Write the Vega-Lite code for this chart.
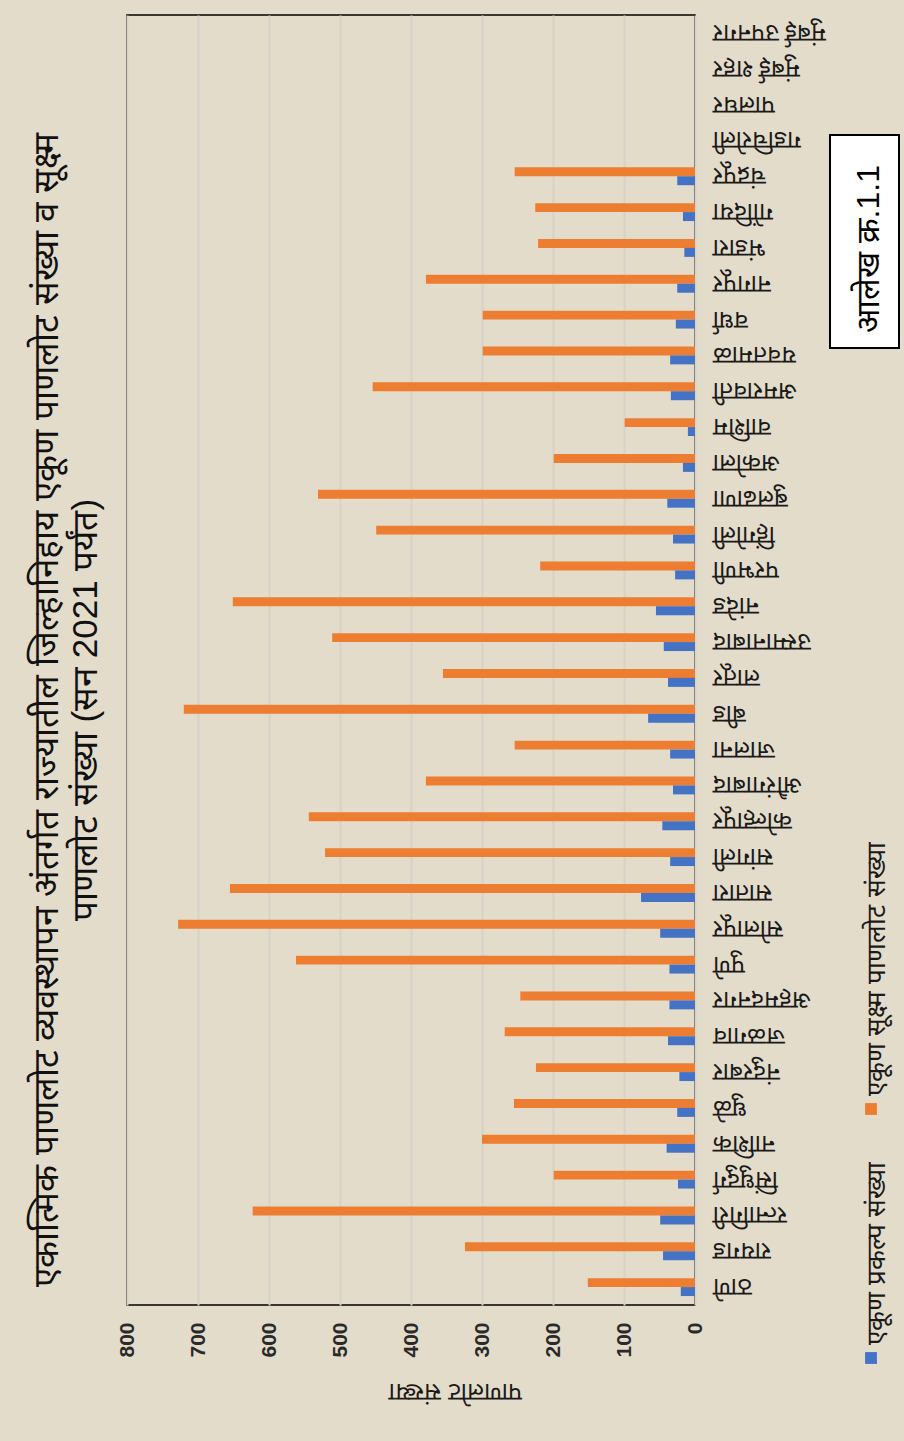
{
  "$schema": "https://vega.github.io/schema/vega-lite/v6.json",
  "width": 568,
  "height": 1290,
  "autosize": "none",
  "padding": {"left": 127, "top": 15, "right": 209, "bottom": 136},
  "background": "#e4dccb",
  "title": {
    "text": ["एकात्मिक पाणलोट व्यवस्थापन अंतर्गत राज्यातील जिल्हानिहाय एकूण पाणलोट संख्या व सूक्ष्म", "पाणलोट संख्या (सन 2021 पर्यंत)"],
    "orient": "left",
    "anchor": "middle",
    "font": "Liberation Sans",
    "fontSize": 35,
    "fontWeight": "normal",
    "color": "#111111",
    "lineHeight": 39,
    "offset": 12,
    "dx": -50
  },
  "config": {
    "view": {"stroke": "#000000", "strokeWidth": 1.5},
    "font": "Liberation Sans"
  },
  "data": {
    "values": [
      {"district": "ठाणे", "series": "एकूण सूक्ष्म पाणलोट संख्या", "value": 151},
      {"district": "ठाणे", "series": "एकूण प्रकल्प संख्या", "value": 20},
      {"district": "रायगड", "series": "एकूण सूक्ष्म पाणलोट संख्या", "value": 324},
      {"district": "रायगड", "series": "एकूण प्रकल्प संख्या", "value": 45},
      {"district": "रत्नागिरी", "series": "एकूण सूक्ष्म पाणलोट संख्या", "value": 623},
      {"district": "रत्नागिरी", "series": "एकूण प्रकल्प संख्या", "value": 49},
      {"district": "सिंधुदुर्ग", "series": "एकूण सूक्ष्म पाणलोट संख्या", "value": 199},
      {"district": "सिंधुदुर्ग", "series": "एकूण प्रकल्प संख्या", "value": 24},
      {"district": "नाशिक", "series": "एकूण सूक्ष्म पाणलोट संख्या", "value": 300},
      {"district": "नाशिक", "series": "एकूण प्रकल्प संख्या", "value": 40},
      {"district": "धुळे", "series": "एकूण सूक्ष्म पाणलोट संख्या", "value": 255},
      {"district": "धुळे", "series": "एकूण प्रकल्प संख्या", "value": 25},
      {"district": "नंदुरबार", "series": "एकूण सूक्ष्म पाणलोट संख्या", "value": 224},
      {"district": "नंदुरबार", "series": "एकूण प्रकल्प संख्या", "value": 22},
      {"district": "जळगाव", "series": "एकूण सूक्ष्म पाणलोट संख्या", "value": 268},
      {"district": "जळगाव", "series": "एकूण प्रकल्प संख्या", "value": 38},
      {"district": "अहमदनगर", "series": "एकूण सूक्ष्म पाणलोट संख्या", "value": 246},
      {"district": "अहमदनगर", "series": "एकूण प्रकल्प संख्या", "value": 36},
      {"district": "पुणे", "series": "एकूण सूक्ष्म पाणलोट संख्या", "value": 562},
      {"district": "पुणे", "series": "एकूण प्रकल्प संख्या", "value": 36},
      {"district": "सोलापूर", "series": "एकूण सूक्ष्म पाणलोट संख्या", "value": 728},
      {"district": "सोलापूर", "series": "एकूण प्रकल्प संख्या", "value": 49},
      {"district": "सातारा", "series": "एकूण सूक्ष्म पाणलोट संख्या", "value": 655},
      {"district": "सातारा", "series": "एकूण प्रकल्प संख्या", "value": 76},
      {"district": "सांगली", "series": "एकूण सूक्ष्म पाणलोट संख्या", "value": 521},
      {"district": "सांगली", "series": "एकूण प्रकल्प संख्या", "value": 35},
      {"district": "कोल्हापूर", "series": "एकूण सूक्ष्म पाणलोट संख्या", "value": 544},
      {"district": "कोल्हापूर", "series": "एकूण प्रकल्प संख्या", "value": 46},
      {"district": "औरंगाबाद", "series": "एकूण सूक्ष्म पाणलोट संख्या", "value": 379},
      {"district": "औरंगाबाद", "series": "एकूण प्रकल्प संख्या", "value": 31},
      {"district": "जालना", "series": "एकूण सूक्ष्म पाणलोट संख्या", "value": 254},
      {"district": "जालना", "series": "एकूण प्रकल्प संख्या", "value": 35},
      {"district": "बीड", "series": "एकूण सूक्ष्म पाणलोट संख्या", "value": 720},
      {"district": "बीड", "series": "एकूण प्रकल्प संख्या", "value": 66},
      {"district": "लातूर", "series": "एकूण सूक्ष्म पाणलोट संख्या", "value": 355},
      {"district": "लातूर", "series": "एकूण प्रकल्प संख्या", "value": 38},
      {"district": "उस्मानाबाद", "series": "एकूण सूक्ष्म पाणलोट संख्या", "value": 511},
      {"district": "उस्मानाबाद", "series": "एकूण प्रकल्प संख्या", "value": 44},
      {"district": "नांदेड", "series": "एकूण सूक्ष्म पाणलोट संख्या", "value": 651},
      {"district": "नांदेड", "series": "एकूण प्रकल्प संख्या", "value": 55},
      {"district": "परभणी", "series": "एकूण सूक्ष्म पाणलोट संख्या", "value": 218},
      {"district": "परभणी", "series": "एकूण प्रकल्प संख्या", "value": 28},
      {"district": "हिंगोली", "series": "एकूण सूक्ष्म पाणलोट संख्या", "value": 449},
      {"district": "हिंगोली", "series": "एकूण प्रकल्प संख्या", "value": 31},
      {"district": "बुलढाणा", "series": "एकूण सूक्ष्म पाणलोट संख्या", "value": 531},
      {"district": "बुलढाणा", "series": "एकूण प्रकल्प संख्या", "value": 39},
      {"district": "अकोला", "series": "एकूण सूक्ष्म पाणलोट संख्या", "value": 199},
      {"district": "अकोला", "series": "एकूण प्रकल्प संख्या", "value": 17},
      {"district": "वाशिम", "series": "एकूण सूक्ष्म पाणलोट संख्या", "value": 99},
      {"district": "वाशिम", "series": "एकूण प्रकल्प संख्या", "value": 10},
      {"district": "अमरावती", "series": "एकूण सूक्ष्म पाणलोट संख्या", "value": 454},
      {"district": "अमरावती", "series": "एकूण प्रकल्प संख्या", "value": 34},
      {"district": "यवतमाळ", "series": "एकूण सूक्ष्म पाणलोट संख्या", "value": 299},
      {"district": "यवतमाळ", "series": "एकूण प्रकल्प संख्या", "value": 35},
      {"district": "वर्धा", "series": "एकूण सूक्ष्म पाणलोट संख्या", "value": 299},
      {"district": "वर्धा", "series": "एकूण प्रकल्प संख्या", "value": 27},
      {"district": "नागपूर", "series": "एकूण सूक्ष्म पाणलोट संख्या", "value": 379},
      {"district": "नागपूर", "series": "एकूण प्रकल्प संख्या", "value": 25},
      {"district": "भंडारा", "series": "एकूण सूक्ष्म पाणलोट संख्या", "value": 221},
      {"district": "भंडारा", "series": "एकूण प्रकल्प संख्या", "value": 15},
      {"district": "गोंदिया", "series": "एकूण सूक्ष्म पाणलोट संख्या", "value": 225},
      {"district": "गोंदिया", "series": "एकूण प्रकल्प संख्या", "value": 17},
      {"district": "चंद्रपूर", "series": "एकूण सूक्ष्म पाणलोट संख्या", "value": 254},
      {"district": "चंद्रपूर", "series": "एकूण प्रकल्प संख्या", "value": 25}
    ]
  },
  "mark": {"type": "bar"},
  "encoding": {
    "y": {
      "field": "district",
      "type": "nominal",
      "scale": {
        "domain": ["मुंबई उपनगर", "मुंबई शहर", "पालघर", "गडचिरोली", "चंद्रपूर", "गोंदिया", "भंडारा", "नागपूर", "वर्धा", "यवतमाळ", "अमरावती", "वाशिम", "अकोला", "बुलढाणा", "हिंगोली", "परभणी", "नांदेड", "उस्मानाबाद", "लातूर", "बीड", "जालना", "औरंगाबाद", "कोल्हापूर", "सांगली", "सातारा", "सोलापूर", "पुणे", "अहमदनगर", "जळगाव", "नंदुरबार", "धुळे", "नाशिक", "सिंधुदुर्ग", "रत्नागिरी", "रायगड", "ठाणे"],
        "paddingInner": 0.5,
        "paddingOuter": 0.25
      },
      "axis": {
        "orient": "right",
        "title": null,
        "labelAngle": 180,
        "labelAlign": "right",
        "labelBaseline": "middle",
        "labelPadding": 17,
        "labelFontSize": 25,
        "labelColor": "#1a1a1a",
        "labelLimit": 300,
        "ticks": false,
        "domain": false,
        "grid": false
      }
    },
    "yOffset": {
      "field": "series",
      "type": "nominal",
      "scale": {"domain": ["एकूण सूक्ष्म पाणलोट संख्या", "एकूण प्रकल्प संख्या"], "paddingInner": 0, "paddingOuter": 0}
    },
    "x": {
      "field": "value",
      "type": "quantitative",
      "scale": {"domain": [0, 800], "reverse": true, "nice": false},
      "axis": {
        "values": [0, 100, 200, 300, 400, 500, 600, 700, 800],
        "title": "पाणलोट संख्या",
        "titleAngle": 180,
        "titleBaseline": "bottom",
        "titleAlign": "center",
        "titleX": 328,
        "titleY": 73,
        "titleFontSize": 25,
        "titleFontWeight": "normal",
        "titleColor": "#1a1a1a",
        "labelAngle": -90,
        "labelAlign": "right",
        "labelBaseline": "middle",
        "labelFontSize": 21,
        "labelFontWeight": "bold",
        "labelColor": "#2a2a2a",
        "labelPadding": 17,
        "ticks": false,
        "domain": false,
        "grid": true,
        "gridColor": "#d6d1c9",
        "gridWidth": 2
      }
    },
    "color": {
      "field": "series",
      "type": "nominal",
      "scale": {"domain": ["एकूण सूक्ष्म पाणलोट संख्या", "एकूण प्रकल्प संख्या"], "range": ["#ED7D31", "#4472C4"]},
      "legend": {
        "title": null,
        "orient": "none",
        "legendX": 731,
        "legendY": 1081,
        "direction": "vertical",
        "symbolType": "square",
        "symbolSize": 140,
        "symbolStrokeWidth": 0,
        "labelFontSize": 26,
        "labelColor": "#1a1a1a",
        "labelLimit": 400,
        "labelOffset": -7,
        "rowPadding": 46,
        "encoding": {
          "labels": {
            "angle": {"value": -90},
            "align": {"value": "left"},
            "baseline": {"value": "middle"},
            "dx": {"value": 13}
          }
        }
      }
    },
    "opacity": {
      "datum": "आलेख क्र.1.1",
      "type": "nominal",
      "scale": {"range": [1]},
      "legend": {
        "title": null,
        "orient": "none",
        "legendX": 703,
        "legendY": 120,
        "symbolSize": 0,
        "symbolOpacity": 0,
        "symbolStrokeWidth": 0,
        "labelFontSize": 32,
        "labelColor": "#000000",
        "labelLimit": 400,
        "labelOffset": -7,
        "padding": 14,
        "fillColor": "#ffffff",
        "strokeColor": "#000000",
        "encoding": {
          "labels": {
            "angle": {"value": -90},
            "align": {"value": "right"},
            "baseline": {"value": "middle"}
          },
          "legend": {
            "strokeWidth": {"value": 2}
          }
        }
      }
    }
  }
}
